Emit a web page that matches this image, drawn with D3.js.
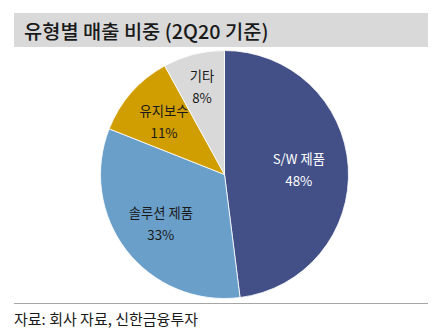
<!DOCTYPE html>
<html><head><meta charset="utf-8">
<script src="https://cdn.jsdelivr.net/npm/d3@7"></script>
<style>
html,body{margin:0;padding:0;background:#fff;}
svg{display:block;font-family:"Noto Sans CJK KR","Noto Sans",sans-serif;}
</style></head>
<body>
<svg id="chart" width="442" height="335"></svg>
<script>
const title = "유형별 매출 비중 (2Q20 기준)";
const source = "자료: 회사 자료, 신한금융투자";
const categories = ["S/W 제품", "솔루션 제품", "유지보수", "기타"];
const values = [48, 33, 11, 8];
const colors = ["#435088", "#6A9FCA", "#D09E00", "#D9D9D9"];
const labelColors = ["#ffffff", "#1a1a1a", "#1a1a1a", "#1a1a1a"];

// layout constants
const W = 442, H = 335;
const cx = 224.5, cy = 174.5, R = 124;
const labelRadiusFactor = [0.6, 0.65, 0.65, 0.73];

const svg = d3.select("#chart");

// title bar
svg.append("rect").attr("x", 14).attr("y", 13).attr("width", 414).attr("height", 34).attr("fill", "#D9D9D9");
svg.append("text").attr("x", 24).attr("y", 30.5).attr("dominant-baseline", "central")
  .attr("font-size", 19.8).attr("font-weight", 500).attr("fill", "#1a1a1a").text(title);

const data = categories.map((c, i) => ({cat: c, value: values[i], idx: i}));
const pie = d3.pie().value(d => d.value).sort(null).startAngle(0).endAngle(2 * Math.PI);
const arcs = pie(data);
const arc = d3.arc().innerRadius(0).outerRadius(R);

const g = svg.append("g").attr("transform", `translate(${cx},${cy})`);
g.selectAll("path.slice").data(arcs).join("path")
  .attr("class", "slice")
  .attr("d", arc)
  .attr("fill", d => colors[d.data.idx])
  .attr("stroke", "#ffffff").attr("stroke-width", 0.8);

const labels = g.selectAll("g.lbl").data(arcs).join("g").attr("class", "lbl")
  .attr("transform", d => {
    const r = R * labelRadiusFactor[d.data.idx];
    const la = d3.arc().innerRadius(r).outerRadius(r);
    const [x, y] = la.centroid(d);
    return `translate(${x},${y})`;
  });
labels.append("text").attr("text-anchor", "middle").attr("y", -11).attr("dominant-baseline", "central")
  .attr("font-size", 13.3).attr("fill", d => labelColors[d.data.idx]).text(d => d.data.cat);
labels.append("text").attr("text-anchor", "middle").attr("y", 11).attr("dominant-baseline", "central")
  .attr("font-size", 13.3).attr("fill", d => labelColors[d.data.idx]).text(d => d.data.value + "%");

// source
svg.append("line").attr("x1", 14).attr("x2", 428).attr("y1", 303.5).attr("y2", 303.5)
  .attr("stroke", "#A6A6A6").attr("stroke-width", 1);
svg.append("text").attr("x", 14).attr("y", 318).attr("dominant-baseline", "central")
  .attr("font-size", 15).attr("fill", "#1a1a1a").text(source);
</script>
</body></html>
